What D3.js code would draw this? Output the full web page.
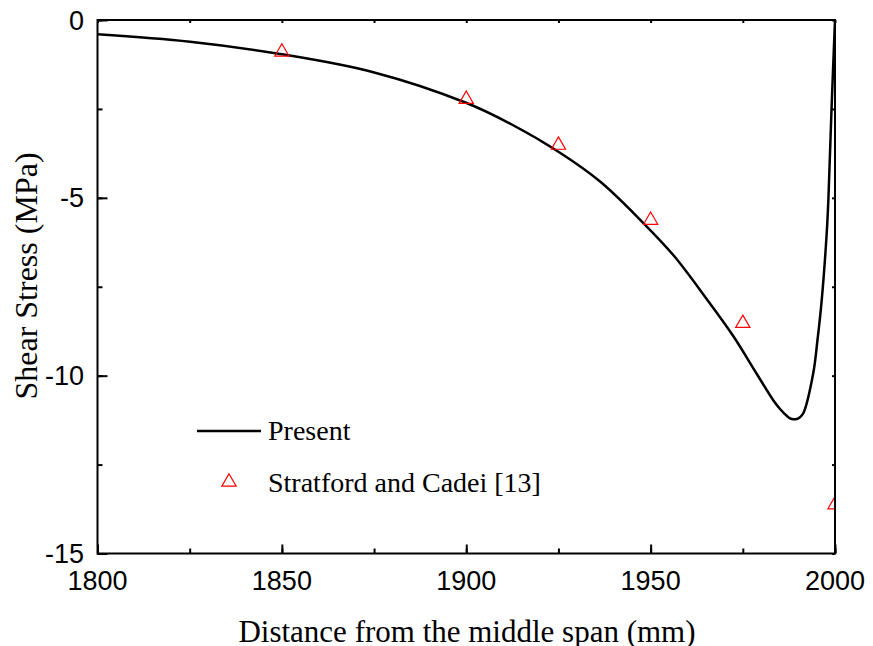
<!DOCTYPE html>
<html><head><meta charset="utf-8">
<script src="https://cdn.jsdelivr.net/npm/d3@7"></script>
<style>body{margin:0;background:#fff}svg{display:block}</style>
</head><body>
<svg id="c" width="873" height="646"></svg>
<script>
// Data
const curveX = [1800,1825.1,1850,1874.8,1900.1,1912.6,1925,1936.3,1947.9,1956.2,1965.2,1972.4,1978.8,1983.3,1985.1,1986.9,1987.8,1988.7,1989.6,1990.5,1991.4,1994.1,1995.25,1996.4,1997.75,1998.2,1999.05,2000];
const curveY = [-0.402,-0.612,-0.964,-1.468,-2.334,-2.952,-3.703,-4.541,-5.694,-6.616,-7.844,-8.885,-9.953,-10.698,-10.937,-11.128,-11.199,-11.227,-11.218,-11.168,-11.058,-9.933,-8.997,-7.873,-5.997,-5.061,-2.53,0];
const expX = [1850,1900,1925,1950,1975,2000];
const expY = [-0.87,-2.2,-3.49,-5.6,-8.5,-13.6];
const xTicks = [1800,1850,1900,1950,2000];
const yTicks = [0,-5,-10,-15];
const legendLabels = ["Present","Stratford and Cadei [13]"];
const xTitle = "Distance from the middle span (mm)";
const yTitle = "Shear Stress (MPa)";

const L=97.5, R=835, T=20, B=553.5;
const svg = d3.select("#c");
const x = d3.scaleLinear().domain([1800,2000]).range([L,R]);
const y = d3.scaleLinear().domain([-15,0]).range([B,T]);

svg.append("defs").append("clipPath").attr("id","clip")
  .append("rect").attr("x",L).attr("y",T).attr("width",R-L).attr("height",B-T);

// curve
svg.append("path")
  .datum(curveX.map((v,i)=>[v,curveY[i]]))
  .attr("fill","none").attr("stroke","#000").attr("stroke-width",2.5)
  .attr("clip-path","url(#clip)")
  .attr("d", d3.line().x(d=>x(d[0])).y(d=>y(d[1])).curve(d3.curveCatmullRom.alpha(0.5)));

// triangles
const tri = d3.symbol().type(d3.symbolTriangle).size(88);
svg.append("g").attr("clip-path","url(#clip)")
  .selectAll("path").data(expX.map((v,i)=>[v,expY[i]])).join("path")
  .attr("d",tri).attr("transform",d=>`translate(${x(d[0])},${y(d[1])+1})`)
  .attr("fill","none").attr("stroke","#ff0000").attr("stroke-width",1.2);

// axes with inward ticks
const minorX = d3.range(1800,2001,25), minorY = d3.range(-15,0.1,2.5);
const gB = svg.append("g").attr("transform",`translate(0,${B})`)
  .call(d3.axisTop(x).tickValues(minorX).tickSize(5).tickFormat(""));
const gB2 = svg.append("g").attr("transform",`translate(0,${B})`)
  .call(d3.axisTop(x).tickValues(xTicks).tickSize(9).tickFormat(""));
const gT = svg.append("g").attr("transform",`translate(0,${T})`)
  .call(d3.axisBottom(x).tickValues(minorX).tickSize(3).tickFormat(""));
const gL = svg.append("g").attr("transform",`translate(${L},0)`)
  .call(d3.axisRight(y).tickValues(minorY).tickSize(5).tickFormat(""));
const gL2 = svg.append("g").attr("transform",`translate(${L},0)`)
  .call(d3.axisRight(y).tickValues(yTicks).tickSize(10).tickFormat(""));
const gR = svg.append("g").attr("transform",`translate(${R},0)`)
  .call(d3.axisLeft(y).tickValues(minorY).tickSize(3).tickFormat(""));
[gB,gB2,gT,gL,gL2,gR].forEach(g=>{
  g.select(".domain").remove();
  g.selectAll("line").attr("stroke","#000").attr("stroke-width",2);
});
svg.append("rect").attr("x",L).attr("y",T).attr("width",R-L).attr("height",B-T)
  .attr("fill","none").attr("stroke","#000").attr("stroke-width",2);

// tick labels
svg.append("g").selectAll("text").data(xTicks).join("text")
  .attr("x",d=>x(d)).attr("y",590).attr("text-anchor","middle")
  .attr("font-family","Liberation Sans, Arial, sans-serif").attr("font-size",27)
  .text(d=>d);
svg.append("g").selectAll("text").data(yTicks).join("text")
  .attr("x",84).attr("y",d=>y(d)+9.5).attr("text-anchor","end")
  .attr("font-family","Liberation Sans, Arial, sans-serif").attr("font-size",27)
  .text(d=>d);

// axis titles
svg.append("text").attr("x",467).attr("y",642).attr("text-anchor","middle")
  .attr("font-family","Liberation Serif, Times New Roman, serif").attr("font-size",31)
  .text(xTitle);
svg.append("text").attr("transform","translate(37,276) rotate(-90)").attr("text-anchor","middle")
  .attr("font-family","Liberation Serif, Times New Roman, serif").attr("font-size",32)
  .text(yTitle);

// legend
svg.append("line").attr("x1",197).attr("x2",261).attr("y1",431).attr("y2",431)
  .attr("stroke","#000").attr("stroke-width",2.5);
svg.append("path").attr("d",tri).attr("transform","translate(229,482)")
  .attr("fill","none").attr("stroke","#ff0000").attr("stroke-width",1.2);
svg.append("g").selectAll("text").data(legendLabels).join("text")
  .attr("x",268).attr("y",(d,i)=>i===0?440:492)
  .attr("font-family","Liberation Serif, Times New Roman, serif").attr("font-size",28)
  .text(d=>d);
</script>
</body></html>
